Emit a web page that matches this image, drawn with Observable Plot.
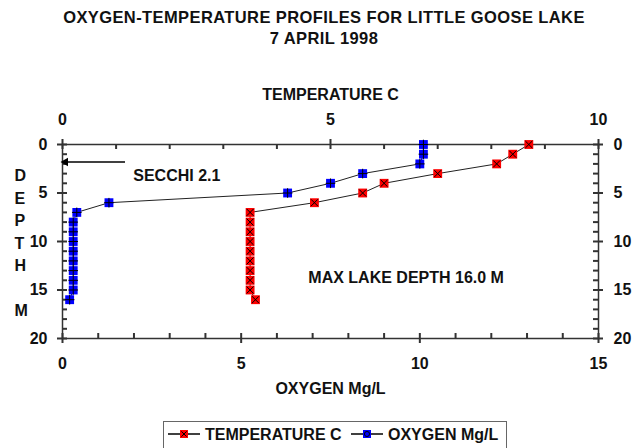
<!DOCTYPE html>
<html>
<head>
<meta charset="utf-8">
<script src="https://cdn.jsdelivr.net/npm/d3@7"></script>
<script src="https://cdn.jsdelivr.net/npm/@observablehq/plot@0.6"></script>
<style>
  body { margin: 0; background: #fff; }
  #wrap { position: relative; width: 633px; height: 448px; overflow: hidden; background: #fff;
          font-family: "Liberation Sans", Arial, sans-serif; font-weight: bold; color: #111; }
  #title { position: absolute; left: 15px; top: 7px; width: 618px; text-align: center;
           font-size: 16.5px; line-height: 21px; letter-spacing: 0.4px; }
  .layer { position: absolute; left: 0; top: 50px; }
  .layer svg { background: transparent !important; }
  #legend { position: absolute; left: 163px; top: 421px; }
</style>
</head>
<body>
<div id="wrap">
  <div id="title">OXYGEN-TEMPERATURE PROFILES FOR LITTLE GOOSE LAKE<br>7 APRIL 1998</div>
  <div id="oxyLayer" class="layer"></div>
  <div id="tempLayer" class="layer"></div>
  <div id="legend"></div>
</div>
<script>
// ---- data ----
const depth       = [0, 1, 2, 3, 4, 5, 6, 7, 8, 9, 10, 11, 12, 13, 14, 15, 16];
const temperature = [8.7, 8.4, 8.1, 7.0, 6.0, 5.6, 4.7, 3.5, 3.5, 3.5, 3.5, 3.5, 3.5, 3.5, 3.5, 3.5, 3.6];
const oxygen      = [10.1, 10.1, 10.0, 8.4, 7.5, 6.3, 1.3, 0.4, 0.3, 0.3, 0.3, 0.3, 0.3, 0.3, 0.3, 0.3, 0.2];

const seriesNames = ["TEMPERATURE C", "OXYGEN Mg/L"];
const seriesColors = ["#ff0000", "#0000ff"];
const seriesSymbols = ["times", "plus"];

const tempDomain = [0, 10];
const oxyDomain = [0, 15];
const depthDomain = [0, 20];
const tempTicks = [0, 5, 10];
const oxyTicks = [0, 5, 10, 15];
const depthTicks = [0, 5, 10, 15, 20];

const secchiArrow = [{x1: 1.75, x2: 0, y: 1.8}];
const annotations = [
  {text: "SECCHI 2.1", x: 1.98, y: 3.2},
  {text: "MAX LAKE DEPTH 16.0 M", x: 6.88, y: 13.8}
];
const depthLabel = "D\nE\nP\nT\nH\n\nM";

// ---- layout ----
const W = 633, H = 365;
const margins = {marginTop: 94, marginBottom: 77, marginLeft: 62, marginRight: 35};
const plotW = W - margins.marginLeft - margins.marginRight;
const plotH = H - margins.marginTop - margins.marginBottom;
const axisColor = "#333";
const lineColor = "#222";
const font = {
  fontFamily: '"Liberation Sans", Arial, sans-serif',
  fontSize: "16px",
  fontWeight: "bold",
  color: "#111",
  background: "transparent",
  overflow: "visible"
};

const tempRows = depth.map((d, i) => ({depth: d, temp: temperature[i]}));
const oxyRows = depth.map((d, i) => ({depth: d, oxy: oxygen[i]}));

// minor tick positions: every unit, excluding the labelled major ticks
const minorOf = (domain, majors) => d3.range(domain[0], domain[1] + 1e-9, 1).filter(v => !majors.includes(v));
const oxyMinor = minorOf(oxyDomain, oxyTicks);
const tempMinor = minorOf(tempDomain, tempTicks);
const depthMinor = minorOf(depthDomain, depthTicks);

// tick length of 5px expressed in each scale's units
const TICK = 5;
const dDepth = TICK * (depthDomain[1] - depthDomain[0]) / plotH;
const dOxy = TICK * (oxyDomain[1] - oxyDomain[0]) / plotW;
const tickStyle = {stroke: axisColor, strokeWidth: 2};

// ---- oxygen plot (bottom axis, depth axes, frame) ----
const oxyPlot = Plot.plot({
  width: W, height: H, ...margins,
  x: {domain: oxyDomain, axis: null, label: null},
  y: {domain: depthDomain, reverse: true, axis: null, label: null},
  style: font,
  marks: [
    // bottom axis ticks (minor inward, major crossing)
    Plot.ruleX(oxyMinor, {x: d => d, y1: depthDomain[1], y2: depthDomain[1] - dDepth, ...tickStyle}),
    Plot.ruleX(oxyTicks, {x: d => d, y1: depthDomain[1] + dDepth, y2: depthDomain[1] - dDepth, ...tickStyle}),
    Plot.axisX(oxyTicks, {anchor: "bottom", tickSize: 0, tickPadding: 19, label: null, fontSize: 16}),
    // left depth axis
    Plot.ruleY(depthMinor, {y: d => d, x1: oxyDomain[0], x2: oxyDomain[0] + dOxy, ...tickStyle}),
    Plot.ruleY(depthTicks, {y: d => d, x1: oxyDomain[0] - dOxy, x2: oxyDomain[0] + dOxy, ...tickStyle}),
    Plot.axisY(depthTicks, {anchor: "left", tickSize: 0, tickPadding: 15, label: null, fontSize: 16}),
    // right depth axis
    Plot.ruleY(depthMinor, {y: d => d, x1: oxyDomain[1] - dOxy, x2: oxyDomain[1], ...tickStyle}),
    Plot.ruleY(depthTicks, {y: d => d, x1: oxyDomain[1] - dOxy, x2: oxyDomain[1] + dOxy, ...tickStyle}),
    Plot.axisY(depthTicks, {anchor: "right", tickSize: 0, tickPadding: 15, label: null, fontSize: 16}),
    Plot.frame({stroke: axisColor, strokeWidth: 1.5}),
    Plot.text([seriesNames[1]], {frameAnchor: "bottom", dy: 55, fontSize: 16, fill: "#111"}),
    Plot.text([depthLabel], {frameAnchor: "left", dx: -48, fontSize: 16, lineHeight: 1.4, fill: "#111"}),
    Plot.text(annotations, {x: "x", y: "y", text: "text", textAnchor: "start", fontSize: 16, fill: "#111"}),
    // Secchi arrow: shaft + filled head
    Plot.link(secchiArrow, {x1: "x1", x2: "x2", y1: "y", y2: "y", stroke: "#000", strokeWidth: 1.5}),
    Plot.dot(secchiArrow, {x: "x2", y: "y", symbol: "triangle", rotate: -90, r: 3.2, dx: 3, fill: "#000"}),
    // oxygen series
    Plot.line(oxyRows, {x: "oxy", y: "depth", stroke: lineColor, strokeWidth: 1}),
    Plot.dot(oxyRows, {x: "oxy", y: "depth", symbol: "square", r: 5, fill: seriesColors[1], stroke: "none"}),
    Plot.dot(oxyRows, {x: "oxy", y: "depth", symbol: seriesSymbols[1], r: 3.2, stroke: "#000", strokeWidth: 1})
  ]
});
document.getElementById("oxyLayer").append(oxyPlot);

// ---- temperature plot (top axis) ----
const tempPlot = Plot.plot({
  width: W, height: H, ...margins,
  x: {domain: tempDomain, axis: null, label: null},
  y: {domain: depthDomain, reverse: true, axis: null, label: null},
  style: font,
  marks: [
    Plot.ruleX(tempMinor, {x: d => d, y1: depthDomain[0], y2: depthDomain[0] + dDepth, ...tickStyle}),
    Plot.ruleX(tempTicks, {x: d => d, y1: depthDomain[0] - dDepth, y2: depthDomain[0] + dDepth, ...tickStyle}),
    Plot.axisX(tempTicks, {anchor: "top", tickSize: 0, tickPadding: 20, label: null, fontSize: 16}),
    Plot.text([seriesNames[0]], {frameAnchor: "top", dy: -56, fontSize: 16, fill: "#111"}),
    Plot.line(tempRows, {x: "temp", y: "depth", stroke: lineColor, strokeWidth: 1}),
    Plot.dot(tempRows, {x: "temp", y: "depth", symbol: "square", r: 5, fill: seriesColors[0], stroke: "none"}),
    Plot.dot(tempRows, {x: "temp", y: "depth", symbol: seriesSymbols[0], r: 3.2, stroke: "#000", strokeWidth: 1})
  ]
});
document.getElementById("tempLayer").append(tempPlot);

// ---- legend ----
const lg = d3.select("#legend").append("svg")
  .attr("width", 344).attr("height", 30)
  .style("font-family", '"Liberation Sans", Arial, sans-serif')
  .style("font-weight", "bold").style("font-size", "16px");
lg.append("rect").attr("x", 0.5).attr("y", 0.5).attr("width", 343).attr("height", 29)
  .attr("fill", "#fff").attr("stroke", "#666");
const items = [{x: 5, tx: 42}, {x: 188, tx: 225}];
items.forEach((it, i) => {
  const g = lg.append("g");
  g.append("line").attr("x1", it.x).attr("x2", it.x + 32).attr("y1", 13).attr("y2", 13)
    .attr("stroke", "#000").attr("stroke-width", 1.5);
  g.append("rect").attr("x", it.x + 12).attr("y", 9).attr("width", 8).attr("height", 8)
    .attr("fill", seriesColors[i]);
  g.append("path").attr("transform", `translate(${it.x + 16},13)`)
    .attr("d", d3.symbol(i === 0 ? d3.symbolTimes : d3.symbolPlus2, 20)())
    .attr("fill", "none").attr("stroke", "#000").attr("stroke-width", 1);
  g.append("text").attr("x", it.tx).attr("y", 13).attr("dy", "0.36em")
    .attr("fill", "#111").text(seriesNames[i]);
});
</script>
</body>
</html>
